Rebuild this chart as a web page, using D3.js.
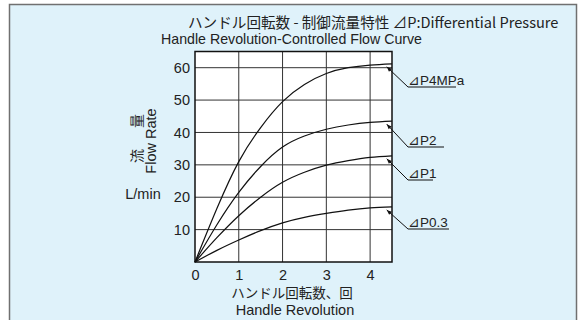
<!DOCTYPE html>
<html>
<head>
<meta charset="utf-8">
<script src="https://cdn.jsdelivr.net/npm/d3@7"></script>
<style>
  html, body { margin: 0; padding: 0; background: #fff; }
  svg { display: block; font-family: "Liberation Sans", Arial, sans-serif; }
  .jp { font-family: "Noto Sans CJK JP", "Liberation Sans", sans-serif; }
</style>
</head>
<body>
<div class="canva"></div>
<script>
// handle revolutions (x) and flow rate L/min per pressure curve
const revs   = [0, 0.5, 1, 1.5, 2, 2.5, 3, 3.5, 4, 4.5];
const flowP4 = [0, 16.5, 31, 41.5, 49.5, 54.8, 58.2, 60, 60.8, 61.2];
const flowP2 = [0, 11.5, 21.5, 29.5, 35.5, 38.9, 41, 42.3, 43.1, 43.5];
const flowP1 = [0, 7.5, 14.3, 20, 24.6, 27.7, 29.9, 31.3, 32.3, 32.8];
const flowP03 = [0, 3.6, 6.8, 9.7, 12.1, 13.8, 15, 16, 16.7, 17];
const curveNames = ["⊿P4MPa", "⊿P2", "⊿P1", "⊿P0.3"];
const xTicks = [0, 1, 2, 3, 4];
const yTicks = [10, 20, 30, 40, 50, 60];

const series = [flowP4, flowP2, flowP1, flowP03].map((v, i) => ({
  name: curveNames[i],
  pts: revs.map((r, j) => [r, v[j]])
}));

const W = 581, H = 320;
const svg = d3.select(".canva").append("svg")
  .attr("width", W).attr("height", H);

// panel background + frame
svg.append("rect").attr("x", 9.5).attr("y", 4.5).attr("width", 567).attr("height", 330)
  .attr("fill", "#dff2fa").attr("stroke", "#707070").attr("stroke-width", 1.5);

const m = {left: 195, right: 392, top: 51.5, bottom: 262};
const x = d3.scaleLinear().domain([0, 4.5]).range([m.left, m.right]);
const y = d3.scaleLinear().domain([0, 65]).range([m.bottom, m.top]);

svg.append("rect").attr("x", m.left).attr("y", m.top)
  .attr("width", m.right - m.left).attr("height", m.bottom - m.top)
  .attr("fill", "#fff");

// grid
svg.append("g").selectAll("line").data(xTicks.slice(1)).join("line")
  .attr("x1", d => x(d)).attr("x2", d => x(d))
  .attr("y1", m.top).attr("y2", m.bottom)
  .attr("stroke", "#333").attr("stroke-width", 1);
svg.append("g").selectAll("line").data(yTicks).join("line")
  .attr("x1", m.left).attr("x2", m.right)
  .attr("y1", d => y(d)).attr("y2", d => y(d))
  .attr("stroke", "#333").attr("stroke-width", 1);

svg.append("rect").attr("x", m.left).attr("y", m.top)
  .attr("width", m.right - m.left).attr("height", m.bottom - m.top)
  .attr("fill", "none").attr("stroke", "#111").attr("stroke-width", 1.5);

// axes (labels only)
const xAxis = svg.append("g").attr("transform", `translate(0,${m.bottom})`)
  .call(d3.axisBottom(x).tickValues(xTicks).tickFormat(d3.format("d")).tickSize(0).tickPadding(8));
const yAxis = svg.append("g").attr("transform", `translate(${m.left},0)`)
  .call(d3.axisLeft(y).tickValues(yTicks).tickSize(0).tickPadding(5));
[xAxis, yAxis].forEach(a => {
  a.select(".domain").remove();
  a.selectAll("text").attr("font-size", 14.5).attr("fill", "#222")
    .attr("font-family", "Liberation Sans, Arial, sans-serif");
});

// curves
const line = d3.line().x(d => x(d[0])).y(d => y(d[1])).curve(d3.curveNatural);
svg.append("g").selectAll("path").data(series).join("path")
  .attr("d", d => line(d.pts))
  .attr("fill", "none").attr("stroke", "#111").attr("stroke-width", 1.2);

// leaders + labels
const labelY = [87, 147, 180, 229];
const labelLen = [48, 36, 25, 41];
svg.append("defs").append("marker").attr("id", "arr")
  .attr("viewBox", "0 0 10 10").attr("refX", 10).attr("refY", 5)
  .attr("markerWidth", 7).attr("markerHeight", 5).attr("markerUnits", "userSpaceOnUse")
  .attr("orient", "auto")
  .append("path").attr("d", "M0,1 L10,5 L0,9 Z").attr("fill", "#111");

series.forEach((s, i) => {
  const tip = s.pts[s.pts.length - 1];
  const tx = x(4.38), ty = y(tip[1]) + 3;
  const lx = 408, ly = labelY[i];
  svg.append("line").attr("x1", lx).attr("y1", ly).attr("x2", tx).attr("y2", ty)
    .attr("stroke", "#111").attr("stroke-width", 1).attr("marker-end", "url(#arr)");
  svg.append("line").attr("x1", lx).attr("y1", ly).attr("x2", lx + labelLen[i]).attr("y2", ly)
    .attr("stroke", "#111").attr("stroke-width", 1);
  svg.append("text").attr("x", lx).attr("y", ly - 2)
    .attr("font-size", 13.5).attr("fill", "#222").text(s.name);
});

// titles
svg.append("text").attr("class", "jp").attr("x", 188).attr("y", 28)
  .attr("font-size", 14.6).attr("fill", "#222")
  .text("ハンドル回転数 - 制御流量特性  ⊿P:Differential Pressure");
svg.append("text").attr("x", 161).attr("y", 44)
  .attr("font-size", 14.2).attr("fill", "#222")
  .text("Handle Revolution-Controlled Flow Curve");

// y axis titles
svg.append("text").attr("class", "jp")
  .attr("transform", "translate(142,156) rotate(-90)")
  .attr("text-anchor", "middle").attr("font-size", 14).attr("fill", "#222")
  .text("流");
svg.append("text").attr("class", "jp")
  .attr("transform", "translate(142,121) rotate(-90)")
  .attr("text-anchor", "middle").attr("font-size", 14).attr("fill", "#222")
  .text("量");
svg.append("text")
  .attr("transform", "translate(156,141) rotate(-90)")
  .attr("text-anchor", "middle").attr("font-size", 14.5).attr("fill", "#222")
  .text("Flow Rate");
svg.append("text").attr("x", 143).attr("y", 199)
  .attr("text-anchor", "middle").attr("font-size", 14.5).attr("fill", "#222")
  .text("L/min");

// x axis titles
svg.append("text").attr("class", "jp").attr("x", 292).attr("y", 298)
  .attr("text-anchor", "middle").attr("font-size", 13.5).attr("fill", "#222")
  .text("ハンドル回転数、回");
svg.append("text").attr("x", 295).attr("y", 314.5)
  .attr("text-anchor", "middle").attr("font-size", 14.5).attr("fill", "#222")
  .text("Handle Revolution");
</script>
</body>
</html>
